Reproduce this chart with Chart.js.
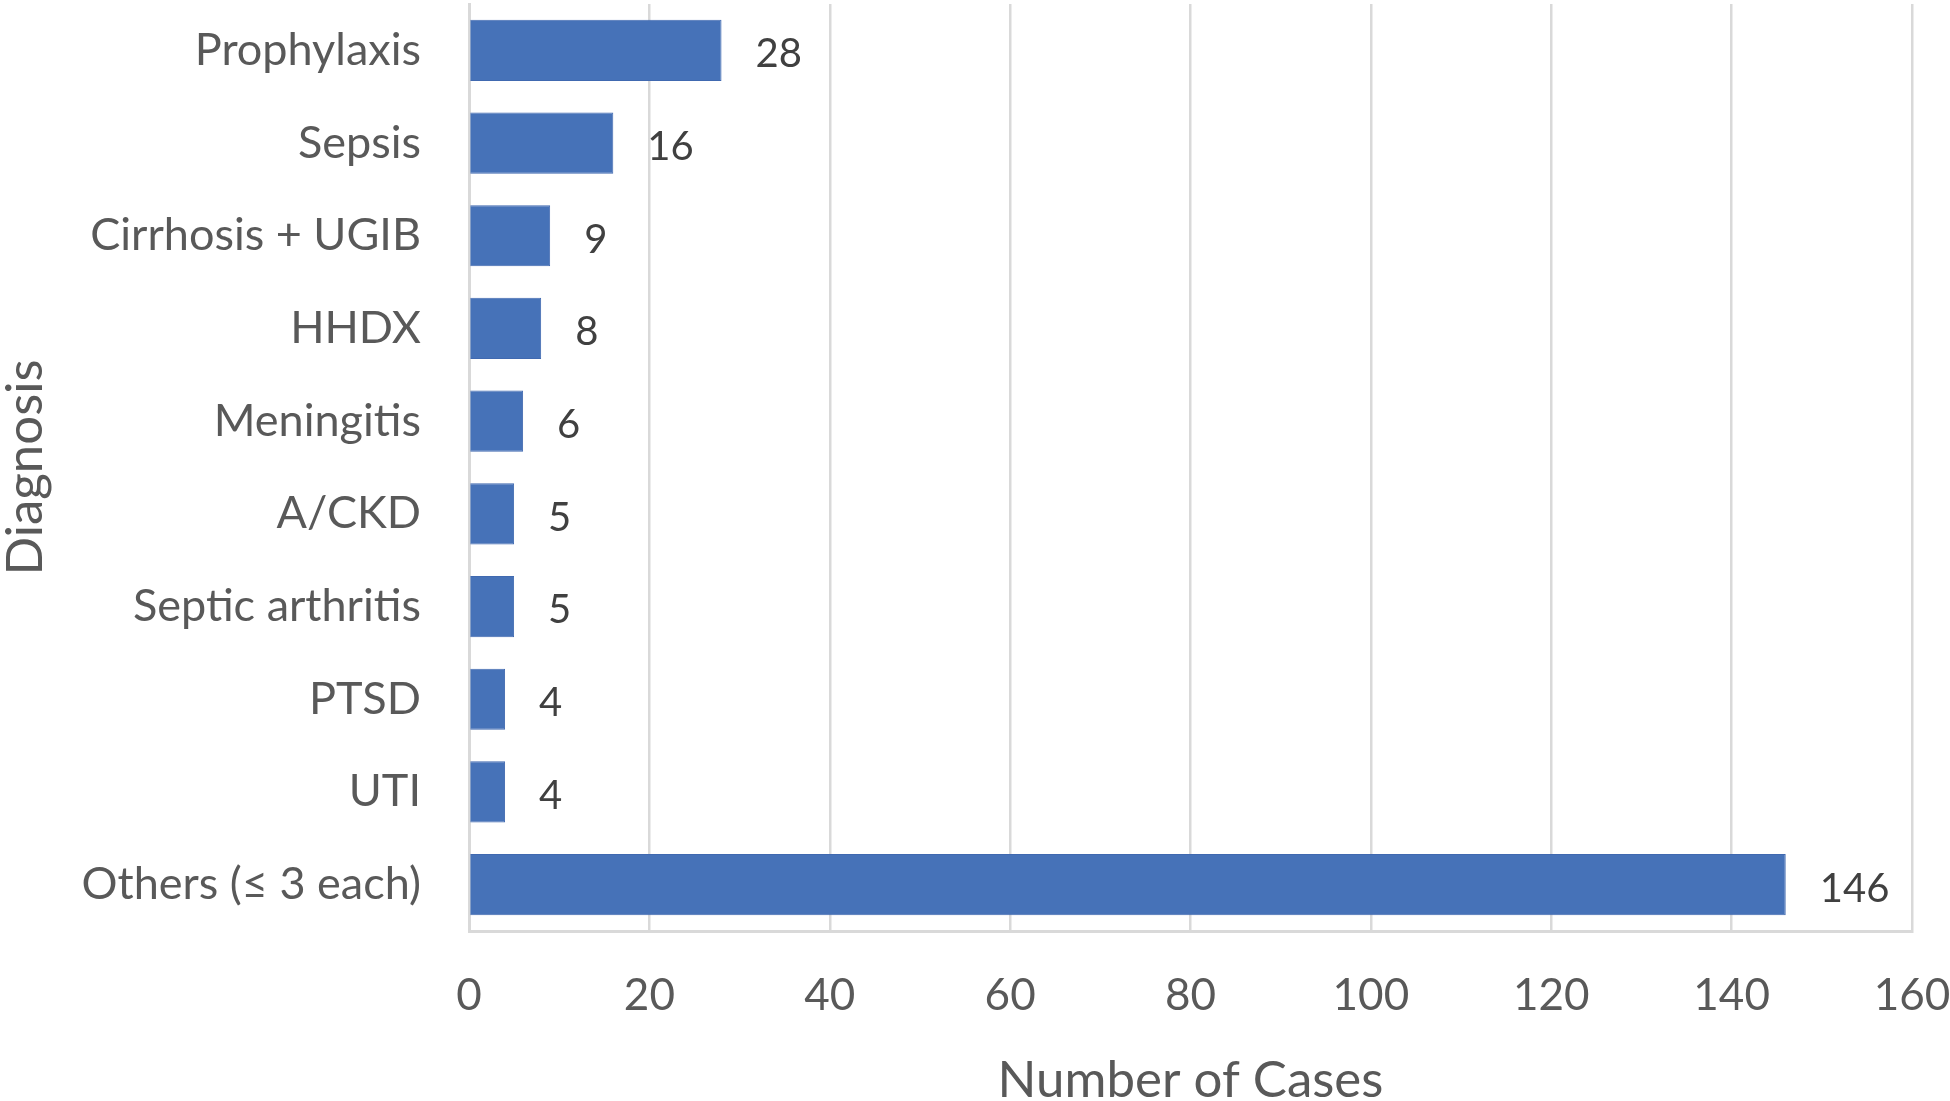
<!DOCTYPE html>
<html>
<head>
<meta charset="utf-8">
<script src="https://cdn.jsdelivr.net/npm/chart.js@4.4.1/dist/chart.umd.min.js"></script>
<style>
  html, body { margin: 0; padding: 0; background: #fff; }
  #wrap { width: 1950px; height: 1101px; }
</style>
</head>
<body>
<div id="wrap"><canvas id="diagnosisChart" width="1950" height="1101"></canvas></div>
<script>
var diagnoses = ['Prophylaxis', 'Sepsis', 'Cirrhosis + UGIB', 'HHDX', 'Meningitis', 'A/CKD', 'Septic arthritis', 'PTSD', 'UTI', 'Others (\u2264 3 each)'];
var caseCounts = [28, 16, 9, 8, 6, 5, 5, 4, 4, 146];
var xTicks = [0, 20, 40, 60, 80, 100, 120, 140, 160];

var fontFamily = 'Lato, "Noto Sans", sans-serif';
var textColor = '#595959';
var gridColor = '#d9d9d9';

// value labels to the right of each bar
var barValueLabels = {
    id: 'barValueLabels',
    afterDatasetsDraw: function (chart) {
        var ctx = chart.ctx;
        var meta = chart.getDatasetMeta(0);
        ctx.save();
        ctx.font = '40px ' + fontFamily;
        ctx.fillStyle = '#404040';
        ctx.textAlign = 'left';
        ctx.textBaseline = 'middle';
        meta.data.forEach(function (bar, i) {
            ctx.fillText(String(caseCounts[i]), bar.x + 34, bar.y + 4);
        });
        ctx.restore();
    }
};

Chart.defaults.animation = false;

new Chart(document.getElementById('diagnosisChart').getContext('2d'), {
    type: 'bar',
    data: {
        labels: diagnoses,
        datasets: [{
            label: 'Number of Cases',
            data: caseCounts,
            backgroundColor: '#4672B8',
            borderColor: '#4069b0',
            borderWidth: 1,
            barPercentage: 0.66,
            categoryPercentage: 1.0
        }]
    },
    options: {
        indexAxis: 'y',
        responsive: false,
        maintainAspectRatio: false,
        layout: { padding: { top: 4, right: 38, left: 0, bottom: 0 } },
        plugins: {
            legend: { display: false },
            tooltip: { enabled: false }
        },
        scales: {
            x: {
                min: 0,
                max: 160,
                afterBuildTicks: function (scale) {
                    scale.ticks = xTicks.map(function (v) { return { value: v }; });
                },
                afterFit: function (scale) {
                    scale.height = 170;
                    scale.paddingLeft = 0;
                    scale.paddingRight = 0;
                },
                grid: { color: gridColor, lineWidth: 2.5, drawTicks: false },
                border: { display: true, color: gridColor, width: 3 },
                ticks: {
                    color: textColor,
                    font: { family: fontFamily, size: 44 },
                    padding: 38,
                    maxRotation: 0
                },
                title: {
                    display: true,
                    text: 'Number of Cases',
                    color: textColor,
                    font: { family: fontFamily, size: 51, lineHeight: 0.8 },
                    padding: 0
                }
            },
            y: {
                afterFit: function (scale) {
                    scale.width = 469;
                    scale.paddingTop = 0;
                    scale.paddingBottom = 0;
                },
                grid: { display: false, drawTicks: false },
                border: { display: true, color: gridColor, width: 3 },
                ticks: {
                    color: textColor,
                    font: { family: fontFamily, size: 45 },
                    padding: 48
                },
                title: {
                    display: true,
                    text: 'Diagnosis',
                    color: textColor,
                    font: { family: fontFamily, size: 51, lineHeight: 1 },
                    padding: 0
                }
            }
        }
    },
    plugins: [barValueLabels]
});
</script>
</body>
</html>
